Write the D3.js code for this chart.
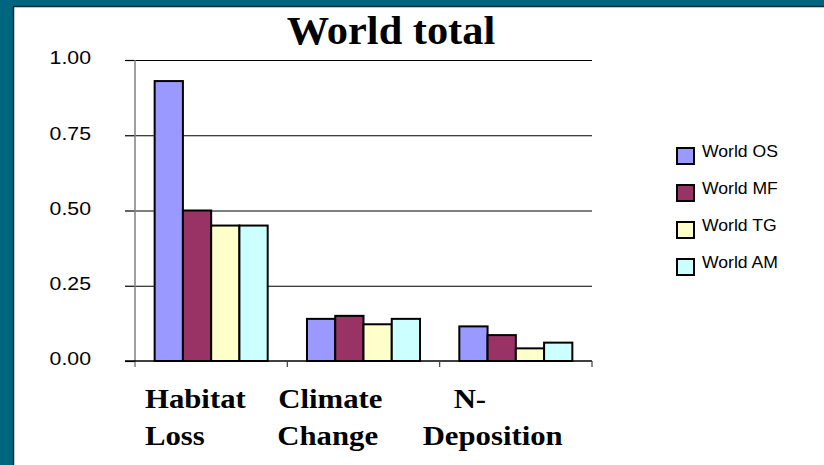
<!DOCTYPE html>
<html>
<head>
<meta charset="utf-8">
<script src="https://cdn.jsdelivr.net/npm/d3@7"></script>
<style>
  html, body { margin: 0; padding: 0; background: #ffffff; }
  svg { display: block; }
</style>
</head>
<body>
<svg id="chart" width="824" height="465"></svg>
<script>
// Pressures on world biodiversity, by scenario
const categories = ["Habitat Loss", "Climate Change", "N-Deposition"];
const categoryLines = [["Habitat", "Loss"], ["Climate", "Change"], ["N-", "Deposition"]];
const series = ["World OS", "World MF", "World TG", "World AM"];
const seriesColors = ["#9999ff", "#993366", "#ffffcc", "#ccffff"];
const worldOS = [0.93, 0.14, 0.115];
const worldMF = [0.50, 0.15, 0.086];
const worldTG = [0.45, 0.122, 0.042];
const worldAM = [0.45, 0.14, 0.061];
const yTicks = [0, 0.25, 0.5, 0.75, 1.0];
const title = "World total";

const values = [worldOS, worldMF, worldTG, worldAM];

const svg = d3.select("#chart");
const W = 824, H = 465;

// frame: teal strips on top and left with a dark inner edge
svg.append("rect").attr("x", 0).attr("y", 0).attr("width", W).attr("height", H).attr("fill", "#ffffff");
svg.append("rect").attr("x", 0).attr("y", 0).attr("width", W).attr("height", 6).attr("fill", "#00667f");
svg.append("rect").attr("x", 0).attr("y", 0).attr("width", 13).attr("height", H).attr("fill", "#00667f");
svg.append("line").attr("x1", 13).attr("x2", W).attr("y1", 6.5).attr("y2", 6.5)
  .attr("stroke", "#10282e").attr("stroke-width", 1.5);
svg.append("line").attr("x1", 13.5).attr("x2", 13.5).attr("y1", 6).attr("y2", H)
  .attr("stroke", "#10282e").attr("stroke-width", 1.5);

const plot = { left: 135, right: 592, top: 60, bottom: 361 };

const x = d3.scaleBand().domain(categories).range([plot.left, plot.right])
  .paddingInner(0.258).paddingOuter(0.129);
const xs = d3.scaleBand().domain(series).range([0, x.bandwidth()]);
const y = d3.scaleLinear().domain([0, 1]).range([plot.bottom, plot.top]);
const color = d3.scaleOrdinal().domain(series).range(seriesColors);

// gridlines
svg.append("g")
  .attr("transform", `translate(${plot.left},0)`)
  .call(d3.axisLeft(y).tickValues(yTicks.slice(1)).tickSize(-(plot.right - plot.left)).tickFormat(""))
  .call(g => g.select(".domain").remove())
  .call(g => g.selectAll("line").attr("stroke", "#000000").attr("stroke-width", 1.2));

// y axis with outward ticks and labels
svg.append("g")
  .attr("transform", `translate(${plot.left},0)`)
  .call(d3.axisLeft(y).tickValues(yTicks).tickSize(10).tickFormat(d3.format(".2f")))
  .call(g => g.select(".domain").remove())
  .call(g => g.selectAll("line").attr("stroke", "#000000").attr("stroke-width", 1.2))
  .call(g => g.selectAll("text")
    .attr("x", 0).attr("dy", "0.2em")
    .attr("transform", "translate(-44,0) scale(1.12,1)")
    .attr("text-anchor", "end")
    .attr("fill", "#000000")
    .style("font-family", "'Liberation Sans', Arial, sans-serif")
    .style("font-size", "19px"));

// vertical axis line
svg.append("line")
  .attr("x1", plot.left).attr("x2", plot.left)
  .attr("y1", y(1)).attr("y2", plot.bottom + 6)
  .attr("stroke", "#808080").attr("stroke-width", 1.5);

// category axis
const step = x.step();
const catEdges = categories.map(c => x(c) - x.paddingOuter() * step);
catEdges.push(plot.right);
svg.append("line")
  .attr("x1", plot.left - 10).attr("x2", plot.right)
  .attr("y1", y(0)).attr("y2", y(0))
  .attr("stroke", "#000000").attr("stroke-width", 1.5);
svg.append("g").selectAll("line").data(catEdges.slice(1)).join("line")
  .attr("x1", d => d).attr("x2", d => d)
  .attr("y1", y(0)).attr("y2", y(0) + 6)
  .attr("stroke", "#404040").attr("stroke-width", 1.2);

// bars
const groups = svg.append("g").selectAll("g").data(series).join("g")
  .attr("fill", d => color(d));
groups.selectAll("rect")
  .data((s, si) => categories.map((c, ci) => ({ s, c, v: values[si][ci] })))
  .join("rect")
  .attr("x", d => x(d.c) + xs(d.s))
  .attr("width", xs.bandwidth())
  .attr("y", d => y(d.v))
  .attr("height", d => y(0) - y(d.v))
  .attr("stroke", "#000000")
  .attr("stroke-width", 2);

// category labels
const labelDx = [[10, 10], [-9, -10], [14, -17]];
const labelG = svg.append("g")
  .style("font-family", "'Liberation Serif', 'Times New Roman', serif")
  .style("font-weight", "bold")
  .style("font-size", "27.7px")
  .attr("fill", "#000000");
categories.forEach((c, ci) => {
  categoryLines[ci].forEach((line, li) => {
    labelG.append("text")
      .attr("transform", `translate(${catEdges[ci] + labelDx[ci][li]},${408 + li * 37}) scale(1.11,1)`)
      .text(line);
  });
});

// title
svg.append("text")
  .attr("transform", "translate(391,44) scale(1.06,1)")
  .attr("text-anchor", "middle")
  .style("font-family", "'Liberation Serif', 'Times New Roman', serif")
  .style("font-weight", "bold")
  .style("font-size", "40px")
  .text(title);

// legend
const legend = svg.append("g").attr("transform", "translate(677,148)");
const item = legend.selectAll("g").data(series).join("g")
  .attr("transform", (d, i) => `translate(0,${i * 37})`);
item.append("rect")
  .attr("x", 0).attr("y", 0).attr("width", 17).attr("height", 16)
  .attr("fill", d => color(d)).attr("stroke", "#000000").attr("stroke-width", 2);
item.append("text")
  .attr("transform", "translate(25,8.7) scale(1.1,1)")
  .style("font-family", "'Liberation Sans', Arial, sans-serif")
  .style("font-size", "16px")
  .attr("fill", "#000000")
  .text(d => d);
</script>
</body>
</html>
